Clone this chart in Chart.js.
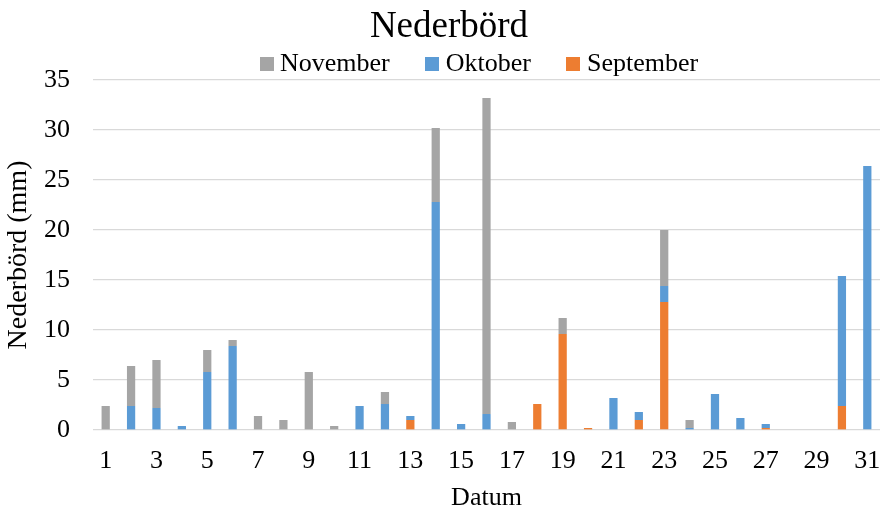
<!DOCTYPE html>
<html>
<head>
<meta charset="utf-8">
<script src="https://cdn.jsdelivr.net/npm/chart.js@4.4.1/dist/chart.umd.min.js"></script>
<style>
html,body{margin:0;padding:0;background:#fff;}
#wrap{width:881px;height:511px;}
</style>
</head>
<body>
<div id="wrap"><canvas id="c" width="881" height="511"></canvas></div>
<script>
const categories = ['1','2','3','4','5','6','7','8','9','10','11','12','13','14','15','16','17','18','19','20','21','22','23','24','25','26','27','28','29','30','31'];
const shownTicks = ['1','3','5','7','9','11','13','15','17','19','21','23','25','27','29','31'];
const september = [0,0,0,0,0,0,0,0,0,0,0,0,1.0,0,0,0,0,2.6,9.6,0.2,0,1.0,12.8,0,0,0,0.2,0,0,2.4,0];
const oktober   = [0,2.4,2.2,0.4,5.8,8.4,0,0,0,0,2.4,2.6,0.4,22.8,0.6,1.6,0,0,0,0,3.2,0.8,1.6,0.2,3.6,1.2,0.4,0,0,13.0,26.4];
const november  = [2.4,4.0,4.8,0,2.2,0.6,1.4,1.0,5.8,0.4,0,1.2,0,7.4,0,31.6,0.8,0,1.6,0,0,0,5.6,0.8,0,0,0,0,0,0,0];
const yMin = 0, yMax = 35, yStep = 5;

const FONT = "'Liberation Serif', 'Times New Roman', serif";
Chart.defaults.font.family = FONT;
Chart.defaults.color = '#000';

function swatch(color) {
  const c = document.createElement('canvas');
  c.width = 14; c.height = 14;
  const g = c.getContext('2d');
  g.fillStyle = color; g.fillRect(0, 0, 14, 14);
  return c;
}

const placer = {
  id: 'placer',
  afterLayout(chart) {
    const t = chart.titleBlock;
    if (t) {
      const h = t.bottom - t.top;
      const dx = 449 - (t.left + t.right) / 2;
      t.left += dx; t.right += dx;
      t.top = 5; t.bottom = t.top + h;
    }
    const lg = chart.legend;
    if (lg && lg.lineWidths) {
      const pad = lg.options.labels.padding;
      const x0 = (lg.left + pad + lg.right - lg.lineWidths[0]) / 2;
      const dx = 266 - x0;
      lg.left += dx; lg.right += dx;
      lg.top = 9; lg.bottom = 80;
    }
  }
};

new Chart(document.getElementById('c'), {
  type: 'bar',
  data: {
    labels: categories,
    datasets: [
      { label: 'September', data: september, backgroundColor: '#ed7d31' },
      { label: 'Oktober', data: oktober, backgroundColor: '#5b9bd5' },
      { label: 'November', data: november, backgroundColor: '#a5a5a5' }
    ]
  },
  options: {
    responsive: false,
    animation: false,
    devicePixelRatio: 1,
    layout: { padding: { left: 0, right: 1, top: 0, bottom: 0 } },
    datasets: { bar: { categoryPercentage: 1, barPercentage: 0.325, borderWidth: 0 } },
    plugins: {
      tooltip: { enabled: false },
      title: {
        display: true, text: 'Nederbörd',
        font: { family: FONT, size: 37, weight: 'normal', lineHeight: 1.2 },
        padding: { top: 0, bottom: 0 }, color: '#000'
      },
      legend: {
        display: true, position: 'top', reverse: true, maxHeight: 35.6,
        labels: {
          font: { family: FONT, size: 26 },
          color: '#000',
          padding: 42,
          usePointStyle: true,
          pointStyleWidth: 1,
          boxHeight: 14,
          generateLabels(chart) {
            const items = Chart.defaults.plugins.legend.labels.generateLabels(chart);
            items.forEach(it => { it.pointStyle = swatch(chart.data.datasets[it.datasetIndex].backgroundColor); });
            return items;
          }
        }
      }
    },
    scales: {
      x: {
        stacked: true,
        grid: { display: false, drawTicks: false },
        border: { display: false },
        ticks: {
          autoSkip: false, maxRotation: 0, minRotation: 0, padding: 0,
          font: { family: FONT, size: 26, lineHeight: 2.43 }, color: '#000',
          callback(v, i) { const l = categories[i]; return shownTicks.includes(l) ? l : ''; }
        },
        title: {
          display: true, text: 'Datum', color: '#000',
          font: { family: FONT, size: 26, lineHeight: 1 },
          padding: { top: -8.2, bottom: 0 }
        }
      },
      y: {
        stacked: true,
        min: yMin, max: yMax,
        grid: { color: '#d9d9d9', lineWidth: 1.3, drawTicks: false },
        border: { display: false },
        ticks: { stepSize: yStep, padding: 23, font: { family: FONT, size: 26 }, color: '#000' },
        title: {
          display: true, text: 'Nederbörd (mm)', color: '#000',
          font: { family: FONT, size: 28, lineHeight: 1.2 },
          padding: { top: 2, bottom: -14.6 }
        }
      }
    }
  },
  plugins: [placer]
});
</script>
</body>
</html>
